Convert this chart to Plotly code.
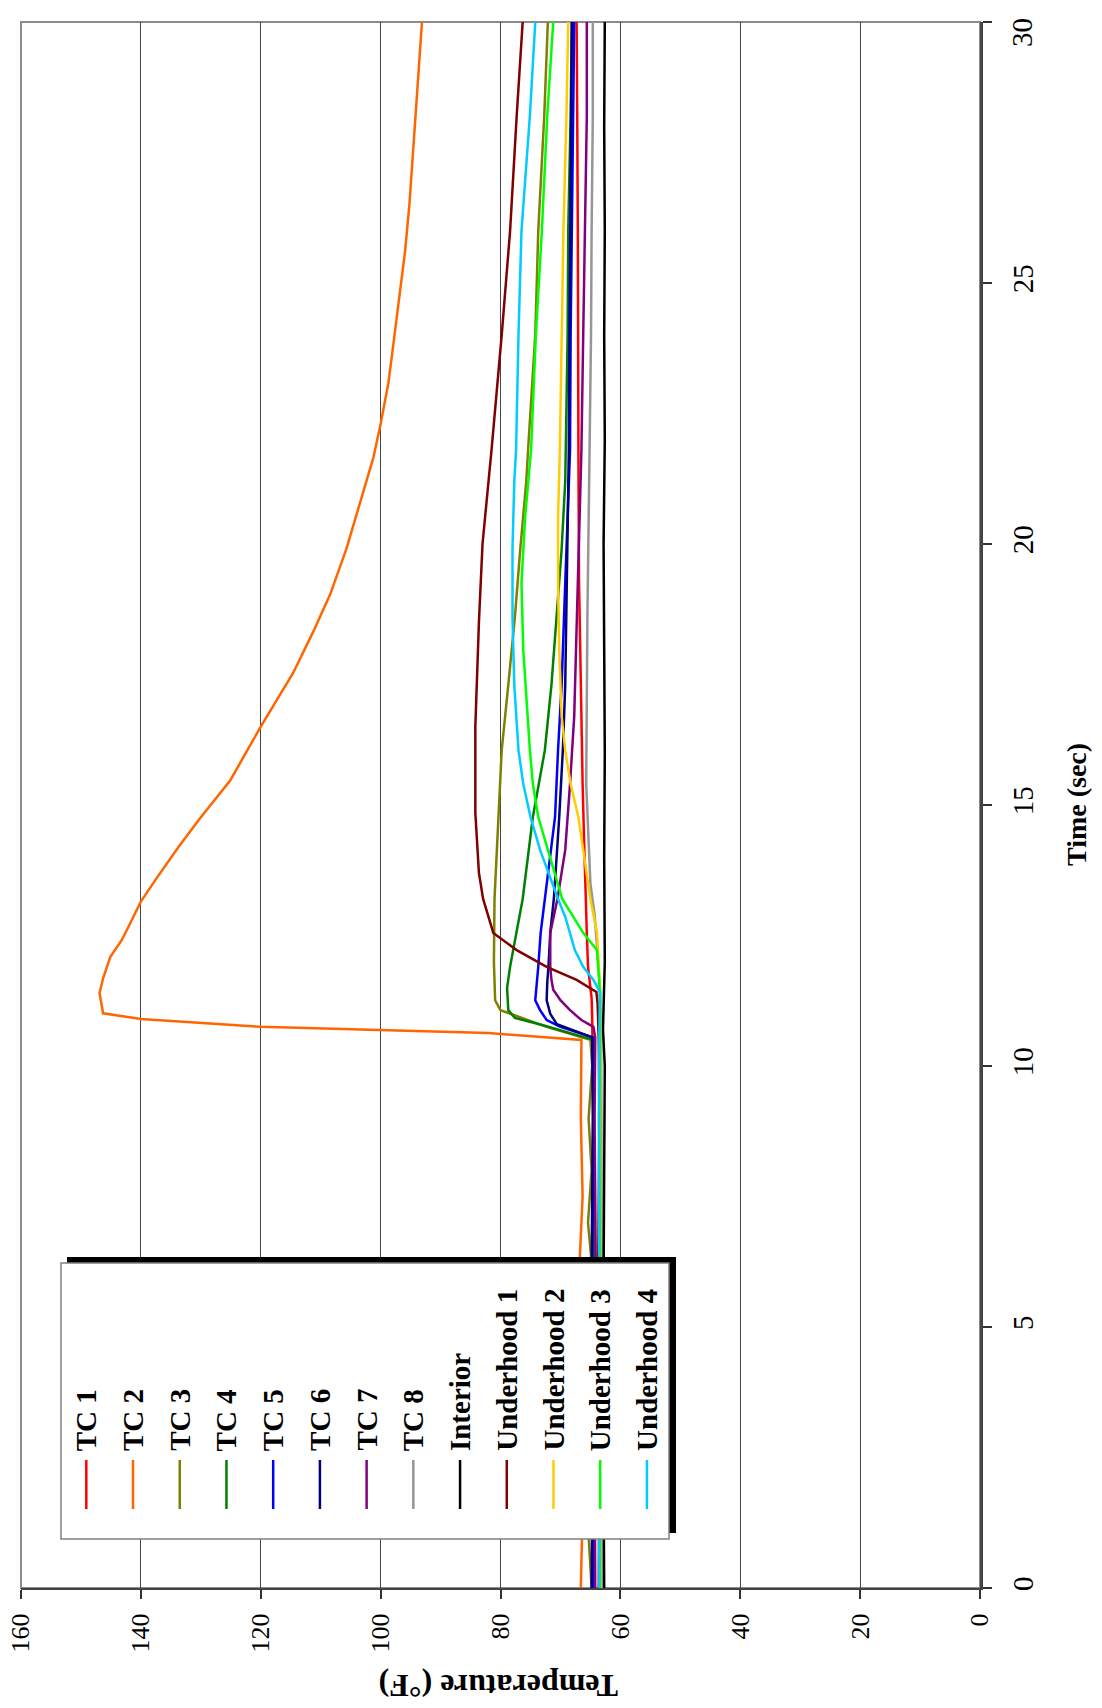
import plotly.graph_objects as go

# ---------------- data (time in s, temperature in °F) ----------------
SERIES_NAMES = ["TC 1", "TC 2", "TC 3", "TC 4", "TC 5", "TC 6", "TC 7", "TC 8",
                "Interior", "Underhood 1", "Underhood 2", "Underhood 3", "Underhood 4"]
SERIES_COLORS = ["#FF0000", "#FF6600", "#808000", "#008000", "#0000FF", "#000080", "#800080",
                 "#969696", "#000000", "#800000", "#FFCC00", "#00FF00", "#00CCFF"]

t_tc1 = [0, 1.5, 3, 4.5, 6, 7.5, 9, 10.5, 10.9, 11.3, 11.9, 12.55, 13.2, 14.1, 15.4, 17.3, 19.3, 21.8, 24.0, 26.0, 28.2, 30]
v_tc1 = [64.5, 64.7, 64.4, 64.6, 64.5, 64.7, 64.5, 64.6, 64.7, 64.8, 65.4, 65.6, 65.8, 66.0, 66.3, 66.6, 66.9, 67.0, 67.0, 67.1, 67.2, 67.3]

t_tc2 = [0, 1.5, 3, 4.5, 6, 7.5, 9, 10.4, 10.5, 10.63, 10.75, 10.9, 11.01, 11.4, 11.68, 12.09, 12.41, 12.73, 13.15,
         13.56, 14.2, 14.75, 15.47, 16.5, 17.53, 18.33, 19.04, 19.91, 20.79, 21.66, 22.3, 23.09, 23.8, 24.6, 25.63,
         26.5, 27.3, 28.2, 29.1, 30]
v_tc2 = [66.6, 66.3, 66.8, 66.4, 66.9, 66.3, 66.6, 66.4, 66.5, 82.0, 120.0, 140.0, 146.3, 146.9, 146.3, 145.1, 143.2,
         141.8, 140.0, 137.6, 133.7, 130.1, 125.1, 120.0, 114.6, 111.2, 108.4, 105.7, 103.4, 101.2, 100.0, 98.7, 97.9,
         97.0, 95.9, 95.2, 94.7, 94.2, 93.7, 93.1]

t_tc3 = [0, 1, 2, 3, 4, 5, 6, 7, 8, 9, 10, 10.5, 10.75, 11.07, 11.26, 12.0, 13.2, 14.77, 16.05, 17.3, 18.6, 19.9, 21.2,
         21.8, 24.0, 26.0, 28.2, 30]
v_tc3 = [64.8, 65.3, 64.6, 65.4, 64.7, 65.3, 64.6, 65.4, 64.8, 65.3, 64.7, 65.0, 72.3, 80.0, 80.9, 81.1, 81.0, 80.4,
         79.8, 78.7, 77.6, 76.7, 75.7, 75.4, 74.2, 73.7, 72.7, 72.1]

t_tc4 = [0, 3, 6, 9, 10.5, 10.78, 10.92, 11.07, 11.5, 11.9, 12.55, 13.2, 14.77, 16.05, 17.3, 18.6, 19.9, 21.2, 21.8,
         24.0, 26.0, 28.2, 30]
v_tc4 = [64.4, 64.5, 64.3, 64.5, 64.5, 72.9, 77.6, 78.7, 78.9, 78.4, 77.3, 76.3, 74.6, 72.6, 71.5, 70.6, 69.8, 69.2,
         69.1, 68.8, 68.7, 68.3, 68.1]

t_tc5 = [0, 3, 6, 9, 10.55, 10.75, 10.88, 11.07, 11.26, 11.6, 11.9, 12.55, 13.2, 14.77, 16.05, 17.3, 18.6, 19.9, 21.8,
         24.0, 26.0, 28.2, 30]
v_tc5 = [64.6, 64.4, 64.7, 64.5, 64.6, 70.0, 72.3, 73.4, 74.2, 73.9, 73.7, 73.3, 72.6, 70.9, 70.4, 69.8, 69.4, 69.0,
         68.4, 68.3, 68.1, 67.9, 67.7]

t_tc6 = [0, 3, 6, 9, 10.55, 10.69, 10.8, 11.0, 11.26, 11.6, 11.9, 12.55, 13.2, 14.77, 16.05, 17.3, 18.6, 19.9, 21.8,
         24.0, 26.0, 28.2, 30]
v_tc6 = [64.8, 64.6, 64.8, 64.6, 64.7, 67.9, 70.6, 71.7, 72.3, 72.2, 72.0, 71.7, 71.1, 70.2, 69.6, 69.2, 69.0, 68.9,
         68.6, 68.5, 68.4, 68.2, 68.1]

t_tc7 = [0, 3, 6, 9, 10.55, 10.75, 10.88, 11.07, 11.26, 11.46, 11.65, 11.9, 12.55, 13.2, 14.14, 15.4, 16.7, 17.97,
         19.25, 20.5, 21.8, 24.0, 26.0, 28.2, 30]
v_tc7 = [64.2, 64.3, 64.1, 64.3, 64.2, 64.5, 66.5, 68.4, 70.0, 71.2, 71.5, 71.7, 71.7, 70.5, 69.2, 68.4, 67.7, 67.4,
         67.1, 66.9, 66.5, 66.2, 65.9, 65.6, 65.6]

t_tc8 = [0, 3, 6, 9, 10.5, 11.5, 12.2, 12.9, 13.5, 15.4, 18.6, 21.8, 24.0, 26.0, 28.2, 30]
v_tc8 = [63.1, 63.2, 63.1, 63.2, 63.2, 63.4, 63.9, 64.3, 65.0, 65.7, 65.5, 65.1, 64.9, 64.8, 64.6, 64.6]

t_int = [0, 2, 4, 6, 8, 10, 10.7, 12, 14, 16, 18, 20, 22, 24, 26, 28, 30]
v_int = [62.7, 62.8, 62.6, 62.8, 62.7, 62.6, 62.9, 62.6, 62.7, 62.6, 62.7, 62.8, 62.6, 62.7, 62.6, 62.7, 62.6]

t_uh1 = [0, 3, 6, 9, 10.5, 11.2, 11.42, 11.65, 11.9, 12.22, 12.55, 13.2, 13.7, 14.85, 16.5, 18.5, 20.0, 21.8, 24.0,
         26.0, 28.2, 30]
v_uh1 = [63.6, 63.5, 63.7, 63.5, 63.6, 63.8, 64.0, 67.3, 72.3, 77.3, 81.2, 82.9, 83.6, 84.2, 84.2, 83.6, 83.0, 81.5,
         79.8, 78.4, 77.3, 76.3]

t_uh2 = [0, 3, 6, 9, 10.5, 11.5, 12.55, 13.2, 14.14, 14.77, 15.4, 16.05, 16.7, 17.97, 19.25, 20.5, 21.8, 24.0, 26.0,
         28.2, 30]
v_uh2 = [63.3, 63.4, 63.3, 63.4, 63.3, 63.4, 63.9, 65.0, 66.2, 67.0, 68.3, 69.2, 69.8, 70.2, 70.4, 70.4, 70.1, 69.8,
         69.5, 69.0, 68.7]

t_uh3 = [0, 3, 6, 9, 10.5, 11.4, 11.9, 12.22, 12.55, 12.86, 13.2, 14.77, 15.4, 16.05, 16.7, 17.97, 19.25, 20.5, 21.8,
         24.0, 26.0, 28.2, 30]
v_uh3 = [63.4, 63.5, 63.4, 63.5, 63.4, 63.4, 63.7, 63.9, 66.2, 67.9, 69.7, 73.7, 74.6, 75.1, 75.5, 76.2, 76.5, 75.9,
         74.9, 74.1, 73.1, 72.2, 71.2]

t_uh4 = [0, 3, 6, 9, 10.5, 11.42, 11.65, 11.9, 12.22, 12.55, 12.86, 13.2, 14.14, 14.77, 15.4, 16.05, 17.3, 18.6, 19.9,
         21.2, 21.8, 24.0, 26.0, 28.2, 30]
v_uh4 = [63.5, 63.6, 63.5, 63.6, 63.5, 63.4, 64.5, 66.2, 67.6, 68.4, 69.2, 70.4, 73.4, 75.0, 76.2, 77.0, 77.7, 78.0,
         78.0, 77.7, 77.4, 77.0, 76.5, 75.1, 74.2]

SERIES_T = [t_tc1, t_tc2, t_tc3, t_tc4, t_tc5, t_tc6, t_tc7, t_tc8, t_int, t_uh1, t_uh2, t_uh3, t_uh4]
SERIES_V = [v_tc1, v_tc2, v_tc3, v_tc4, v_tc5, v_tc6, v_tc7, v_tc8, v_int, v_uh1, v_uh2, v_uh3, v_uh4]

TEMP_TICKS = [0, 20, 40, 60, 80, 100, 120, 140, 160]
TIME_TICKS = [0, 5, 10, 15, 20, 25, 30]

# ---------------- layout geometry (page pixels; body margin removed below) ----------------
W, H = 1102, 1708
PL, PR, PT, PB = 21, 980, 22, 1588   # plot area edges


def px(x):
    return (x - PL) / (PR - PL)


def py(y):
    return (PB - y) / (PB - PT)


SERIF = "Liberation Serif, Times New Roman, serif"

fig = go.Figure()
for name, col, tt, vv in zip(SERIES_NAMES, SERIES_COLORS, SERIES_T, SERIES_V):
    fig.add_trace(go.Scatter(x=vv, y=tt, mode="lines", name=name,
                             line=dict(color=col, width=2.5), showlegend=False))

shapes = []
annotations = []

# plot border (gray)
shapes.append(dict(type="rect", xref="paper", yref="paper", x0=0, x1=1, y0=0, y1=1,
                   line=dict(color="#8c8c8c", width=2), layer="below"))

# legend: shadow, box, samples, labels
shapes.append(dict(type="rect", xref="paper", yref="paper", x0=px(67), x1=px(676), y0=py(1533), y1=py(1257),
                   fillcolor="#000000", line=dict(width=0), layer="above"))
shapes.append(dict(type="rect", xref="paper", yref="paper", x0=px(61), x1=px(669), y0=py(1539), y1=py(1263),
                   fillcolor="#ffffff", line=dict(color="#808080", width=1.5), layer="above"))
col_x0, col_dx = 86.3, 46.72
for i, (name, col) in enumerate(zip(SERIES_NAMES, SERIES_COLORS)):
    cx = col_x0 + i * col_dx
    shapes.append(dict(type="line", xref="paper", yref="paper", x0=px(cx), x1=px(cx), y0=py(1509), y1=py(1460),
                       line=dict(color=col, width=2.5), layer="above"))
    annotations.append(dict(xref="paper", yref="paper", x=px(cx), y=py(1453), text="<b>%s</b>" % name,
                            textangle=-90, showarrow=False, xanchor="center", yanchor="bottom",
                            font=dict(family=SERIF, size=29, color="#000000")))

# axis titles
annotations.append(dict(xref="paper", yref="paper", x=px(1076), y=py(805), text="<b>Time (sec)</b>",
                        textangle=-90, showarrow=False, xanchor="center", yanchor="middle",
                        font=dict(family=SERIF, size=28, color="#000000")))
annotations.append(dict(xref="paper", yref="paper", x=px(499), y=py(1686), text="<b>Temperature (°F)</b>",
                        textangle=180, showarrow=False, xanchor="center", yanchor="middle",
                        font=dict(family=SERIF, size=32, color="#000000")))

# top time label kept inside the page (as in the reference)
time_text = [str(v) for v in TIME_TICKS]
annotations.append(dict(xref="paper", yref="y", x=px(1022), y=TIME_TICKS[-1], yshift=-11,
                        text=time_text[-1], textangle=-90, showarrow=False,
                        xanchor="center", yanchor="middle",
                        font=dict(family=SERIF, size=29, color="#000000")))
axis_time_text = time_text[:-1] + [""]

fig.update_layout(
    width=W, height=H,
    margin=dict(l=PL, r=W - PR, t=PT, b=H - PB, pad=0, autoexpand=False),
    paper_bgcolor="#ffffff", plot_bgcolor="#ffffff",
    showlegend=False,
    shapes=shapes, annotations=annotations,
    xaxis=dict(range=[160, 0], tickmode="array", tickvals=TEMP_TICKS, ticktext=[str(v) for v in TEMP_TICKS],
               tickangle=-90, ticks="outside", ticklen=9, tickwidth=1.5, tickcolor="#333333",
               showgrid=True, gridcolor="#444444", gridwidth=1, zeroline=False, automargin=False,
               showline=True, linecolor="#444444", linewidth=2, ticklabelstandoff=4,
               ticklabeloverflow="allow",
               tickfont=dict(family=SERIF, size=26, color="#000000")),
    yaxis=dict(range=[0, 30], side="right", tickmode="array", tickvals=TIME_TICKS,
               ticktext=axis_time_text, tickangle=-90, ticks="outside", ticklen=9,
               tickwidth=1.5, tickcolor="#333333", showgrid=False, zeroline=False, automargin=False,
               showline=True, linecolor="#444444", linewidth=3, ticklabelstandoff=6,
               ticklabeloverflow="allow",
               tickfont=dict(family=SERIF, size=29, color="#000000")),
)

fig.write_html("out.html", config={"displayModeBar": False},
               post_script="document.body.style.margin='0px';")
